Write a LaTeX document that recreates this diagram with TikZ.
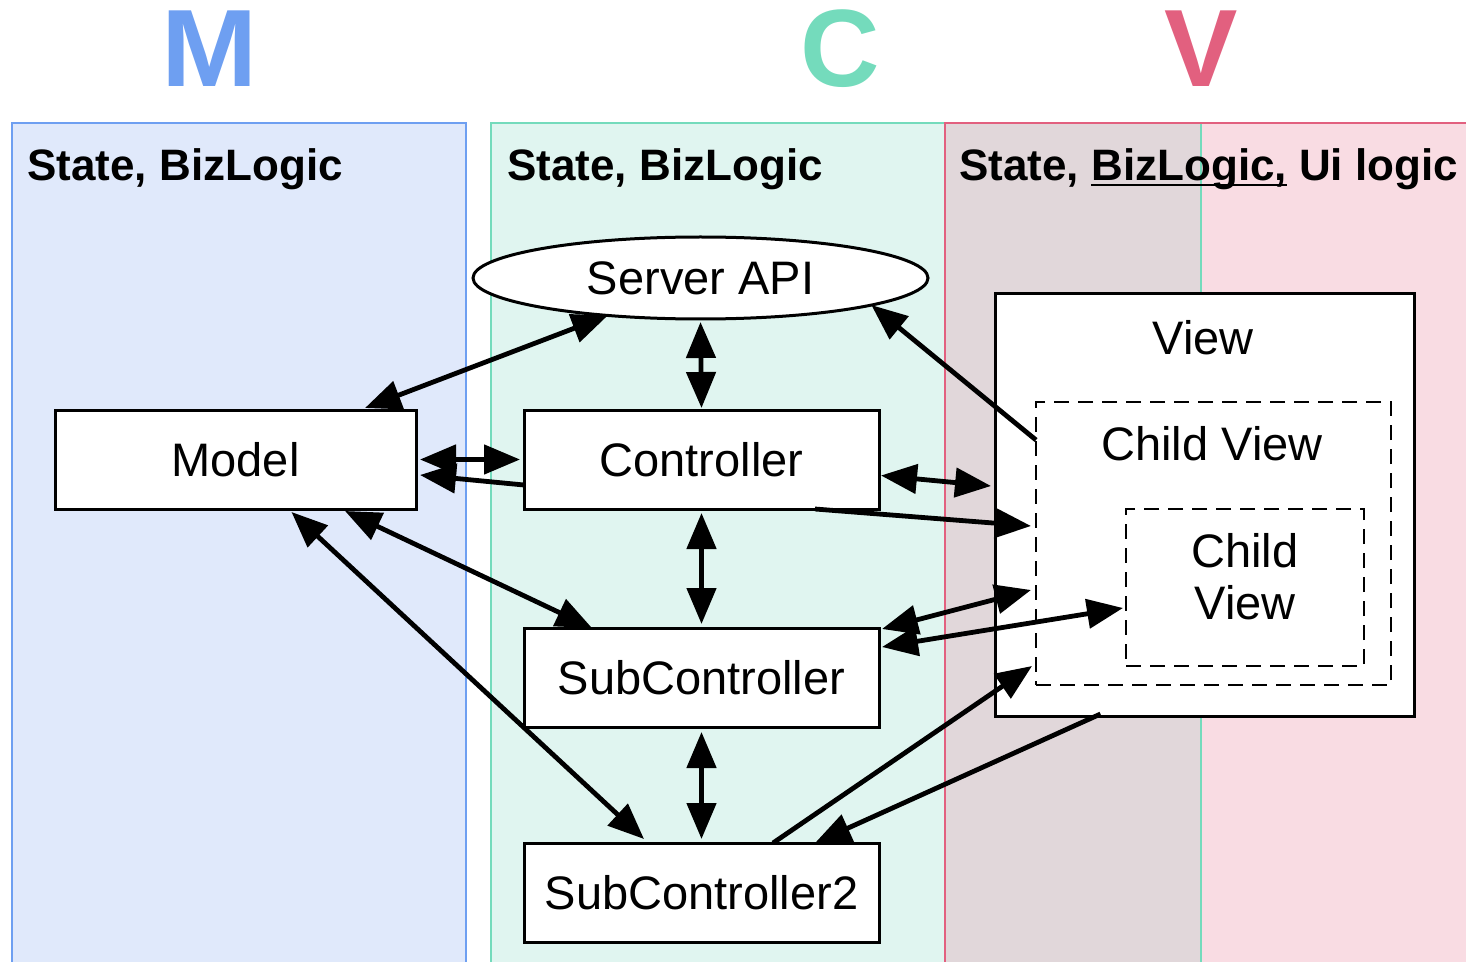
\documentclass[tikz,border=0pt]{standalone}
\usepackage{fontspec}
\setmainfont{Liberation Sans}
\usetikzlibrary{arrows.meta,shapes.geometric}
\definecolor{mblue}{HTML}{6E9FF1}
\definecolor{mbluefill}{HTML}{E0E9FB}
\definecolor{cgreen}{HTML}{74DBBC}
\definecolor{cgreenfill}{HTML}{E0F5F0}
\definecolor{vpink}{HTML}{E2607F}
\definecolor{vpinkfill}{HTML}{F9DCE3}
\definecolor{overlapfill}{HTML}{E1D7DA}
\newcommand\myul[1]{\setbox0\hbox{#1}\rlap{\rule[-2.6pt]{\wd0}{1.1pt}}\box0\relax}
\begin{document}
\begin{tikzpicture}[x=0.5pt,y=-0.5pt,
  Tri/.tip={Triangle[length=18pt,width=14.5pt]},
  box/.style={draw, line width=1.5pt, fill=white, inner sep=0pt, outer sep=0pt,
    font=\fontsize{23.5}{26}\selectfont},
  dbox/.style={draw, line width=1.4pt, dash pattern=on 7.5pt off 4.5pt, inner sep=0pt, outer sep=0pt},
  lbl/.style={font=\fontsize{23.5}{26}\selectfont, align=center, inner sep=0pt},
  hdr/.style={anchor=base west, font=\bfseries\fontsize{22}{26}\selectfont, inner sep=0pt},
  ttl/.style={anchor=base, font=\bfseries\fontsize{55}{60}\selectfont, inner sep=0pt},
  both/.style={line width=2.4pt, {Tri}-{Tri}},
  one/.style={line width=2.4pt, -{Tri}}]
\useasboundingbox (0,0) rectangle (1466,962);
\clip (0,0) rectangle (1466,962);
% columns
\fill[mbluefill] (12,123) rectangle (466,970);
\fill[cgreenfill] (491,123) rectangle (1201,970);
\fill[vpinkfill] (945,123) rectangle (1480,970);
\fill[overlapfill] (945,123) rectangle (1201,970);
\draw[mblue, line width=1.2pt] (12,123) rectangle (466,970);
\draw[cgreen, line width=1.2pt] (491,123) rectangle (1201,970);
\draw[vpink, line width=1.2pt] (945,123) rectangle (1480,970);
\draw[cgreen, line width=1pt] (1201,125) -- (1201,970);
% titles
\node[ttl, text=mblue] (tm) at (210,87) {\scalebox{1.05}[1]{M}};
\node[ttl, text=cgreen] (tc) at (840,87) {C};
\node[ttl, text=vpink] (tv) at (1201,87) {V};
% headers
\node[hdr] (h1) at (27,181) {State, BizLogic};
\node[hdr] (h2) at (507,181) {State, BizLogic};
\node[hdr] (h3) at (959,181) {State, \myul{BizLogic,} Ui logic};
% nodes
\node[box, ellipse, minimum width=227.5pt, minimum height=41pt] (server) at (700.5,278) {Server API};
\node[box, minimum width=180.5pt, minimum height=49.5pt] (model) at (235.5,459.5) {Model};
\node[box, minimum width=177.5pt, minimum height=49.5pt] (ctrl) at (701.5,459.5) {Controller};
\node[box, minimum width=177.5pt, minimum height=49.5pt] (sub) at (701.5,677.5) {SubController};
\node[box, minimum width=177.5pt, minimum height=49.5pt] (sub2) at (701.5,892.5) {SubController2};
\node[box, minimum width=209.5pt, minimum height=211pt] (view) at (1204.5,505) {};
\node[lbl] (viewlbl) at (1203,338) {View};
\node[dbox, minimum width=177.5pt, minimum height=141.5pt] (cv) at (1213.5,543.5) {};
\node[lbl] (cvlbl) at (1212,444) {Child View};
\node[dbox, minimum width=119pt, minimum height=78.5pt] (icv) at (1245,587.5) {};
\node[lbl] (icvlbl) at (1245,577) {Child\\View};
% connectors
\draw[both] ([xshift=-25.5pt,yshift=1pt]model.north east) -- (server.202);
\draw[both] ([yshift=-1.5pt]server.south) -- ([yshift=1pt]ctrl.north);
\draw[one] ([yshift=-19pt]cv.north west) -- (server.-9);
\draw[both] ([xshift=2pt]model.east) -- ([xshift=-2pt]ctrl.west);
\draw[one] ([yshift=-12.75pt]ctrl.west) -- ([xshift=2pt,yshift=-7.75pt]model.east);
\draw[both] ([xshift=1pt,yshift=-8pt]ctrl.east) -- ([xshift=-2pt,yshift=9.5pt]view.west);
\draw[one] ([xshift=-32pt]ctrl.south east) -- ([xshift=-2.5pt,yshift=8.75pt]cv.west);
\draw[both] ([yshift=-2pt]ctrl.south) -- ([yshift=2pt]sub.north);
\draw[both] ([xshift=-35.5pt,yshift=-1pt]model.south east) -- ([xshift=34pt]sub.north west);
\draw[both] ([xshift=28pt,yshift=-1.5pt]model.south) -- ([xshift=60pt,yshift=2pt]sub2.north west);
\draw[both] ([xshift=1.5pt,yshift=-0.5pt]sub.north east) -- ([xshift=-2.5pt,yshift=-23.25pt]cv.west);
\draw[both] ([xshift=1.5pt,yshift=-9.5pt]sub.north east) -- ([xshift=-1.5pt,yshift=-10.25pt]icv.west);
\draw[one] ([xshift=35.75pt]sub2.north) -- ([xshift=-2pt,yshift=9.5pt]cv.south west);
\draw[one] ([xshift=-52pt,yshift=1pt]view.south) -- ([xshift=-32pt]sub2.north east);
\draw[both] ([yshift=-2.5pt]sub.south) -- ([yshift=2pt]sub2.north);
\end{tikzpicture}
\end{document}
